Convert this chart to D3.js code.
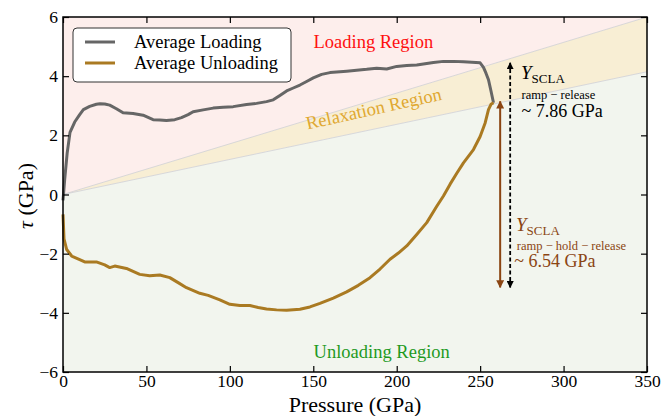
<!DOCTYPE html>
<html>
<head>
  <meta charset="utf-8">
  <style>
    body { margin: 0; background: #fff; }
    text { font-family: "Liberation Serif", "Times New Roman", serif; }
  </style>
</head>
<body>
  <svg id="chart" width="663" height="416"></svg>
  <script src="https://d3js.org/d3.v7.min.js"></script>
  <script>
    // traced values, pressure in GPa, tau in GPa
    const loadingP = [0, 1, 2.5, 4.2, 7, 10, 12.2, 16, 20, 22.2, 25, 28, 32, 36, 42, 48, 54, 58, 62, 67, 71, 75, 78, 84, 90, 96, 102, 110, 116, 122, 126, 130, 134, 138, 142, 146, 150, 155, 160, 166, 170, 176, 182, 188, 194, 200, 206, 212, 217, 222, 228, 234, 240, 245, 250, 252, 253.5, 255, 256.5, 258];
    const loadingTau = [-0.2, 0.5, 1.4, 2.1, 2.45, 2.7, 2.87, 2.98, 3.05, 3.07, 3.06, 3.02, 2.9, 2.76, 2.74, 2.68, 2.53, 2.52, 2.5, 2.53, 2.6, 2.7, 2.8, 2.86, 2.92, 2.95, 2.97, 3.04, 3.08, 3.14, 3.2, 3.35, 3.5, 3.6, 3.7, 3.82, 3.94, 4.06, 4.12, 4.15, 4.17, 4.2, 4.23, 4.27, 4.24, 4.33, 4.36, 4.38, 4.42, 4.46, 4.5, 4.5, 4.49, 4.47, 4.45, 4.3, 4.1, 3.88, 3.5, 3.1];
    const unloadingP = [0, 0.6, 2.2, 5.2, 10, 13, 20, 25, 28, 31, 38, 46, 52, 58, 64, 69, 74, 82, 87, 94, 100, 106, 112, 117, 122, 128, 134, 142, 148, 154, 162, 170, 177, 184, 190, 196, 201, 206, 212, 218, 224, 228, 232, 236, 240, 246, 250, 253, 255, 256.5, 258];
    const unloadingTau = [-0.67, -1.5, -1.86, -2.08, -2.2, -2.28, -2.28, -2.38, -2.47, -2.42, -2.5, -2.7, -2.75, -2.72, -2.81, -2.98, -3.15, -3.34, -3.41, -3.56, -3.71, -3.75, -3.75, -3.82, -3.87, -3.9, -3.91, -3.88, -3.8, -3.68, -3.5, -3.29, -3.07, -2.81, -2.52, -2.19, -1.98, -1.74, -1.35, -0.95, -0.4, -0.05, 0.35, 0.72, 1.07, 1.52, 1.96, 2.42, 2.87, 3.05, 3.1];

    // region boundaries
    const boundaryP = [0, 350];
    const upperTau = [0, 6];
    const lowerTau = [0, 4.15];

    const xTicks = [0, 50, 100, 150, 200, 250, 300, 350];
    const yTicks = [-6, -4, -2, 0, 2, 4, 6];

    // Y_SCLA arrows: pressure, tau from, tau to
    const rampReleaseArrow = [268, -3.14, 4.45];
    const rampHoldArrow = [262, -3.14, 3.15];

    const width = 663, height = 416;
    const margin = {top: 17, right: 16, bottom: 44, left: 63};
    const w = width - margin.left - margin.right;
    const h = height - margin.top - margin.bottom;

    const svg = d3.select("#chart");
    const g = svg.append("g").attr("transform", `translate(${margin.left},${margin.top})`);

    const x = d3.scaleLinear().domain([0, 350]).range([0, w]);
    const y = d3.scaleLinear().domain([-6, 6]).range([h, 0]);

    // regions
    const up = boundaryP.map((p, i) => [p, upperTau[i]]);
    const lo = boundaryP.map((p, i) => [p, lowerTau[i]]);
    const poly = d3.line().x(d => x(d[0])).y(d => y(d[1]));

    g.append("path").attr("fill", "#fdeeec")
      .attr("d", poly([[0, 6], ...up, [350, 6]]) + "Z");
    g.append("path").attr("fill", "#f8eed4")
      .attr("d", poly([...up, ...lo.slice().reverse()]) + "Z");
    g.append("path").attr("fill", "#f2f5ee")
      .attr("d", poly([...lo, [350, -6], [0, -6]]) + "Z");
    g.append("path").attr("fill", "none").attr("stroke", "#cfcfd4").attr("stroke-width", 0.8).attr("d", poly(up));
    g.append("path").attr("fill", "none").attr("stroke", "#cfcfd4").attr("stroke-width", 0.8).attr("d", poly(lo));

    // region labels
    g.append("text").attr("x", x(186)).attr("y", y(4.95)).attr("text-anchor", "middle")
      .attr("fill", "#ff1010").style("font-size", "18.5px").text("Loading Region");
    g.append("text").attr("transform", `translate(${x(187)},${y(2.7)}) rotate(-12.5)`)
      .attr("text-anchor", "middle").attr("fill", "#e0a830").style("font-size", "18.5px").text("Relaxation Region");
    g.append("text").attr("x", x(191)).attr("y", y(-5.54)).attr("text-anchor", "middle")
      .attr("fill", "#1e9a1e").style("font-size", "18.5px").text("Unloading Region");

    // curves
    const line = d3.line().x(d => x(d[0])).y(d => y(d[1]));
    g.append("path").attr("fill", "none").attr("stroke", "#666666").attr("stroke-width", 3)
      .attr("stroke-linejoin", "round")
      .attr("d", line(loadingP.map((p, i) => [p, loadingTau[i]])));
    g.append("path").attr("fill", "none").attr("stroke", "#aa7a22").attr("stroke-width", 3)
      .attr("stroke-linejoin", "round")
      .attr("d", line(unloadingP.map((p, i) => [p, unloadingTau[i]])));

    // arrows
    const defs = svg.append("defs");
    [["headBlack", "#000"], ["headBrown", "#8b4513"]].forEach(([id, c]) => {
      defs.append("marker").attr("id", id).attr("viewBox", "0 0 10 10")
        .attr("refX", 9).attr("refY", 5).attr("markerWidth", 4).attr("markerHeight", 4)
        .attr("markerUnits", "strokeWidth").attr("orient", "auto-start-reverse")
        .append("path").attr("d", "M0,0L10,5L0,10Z").attr("fill", c);
    });
    g.append("line").attr("x1", x(rampHoldArrow[0])).attr("x2", x(rampHoldArrow[0]))
      .attr("y1", y(rampHoldArrow[1])).attr("y2", y(rampHoldArrow[2]))
      .attr("stroke", "#8b4513").attr("stroke-width", 2)
      .attr("marker-start", "url(#headBrown)").attr("marker-end", "url(#headBrown)");
    g.append("line").attr("x1", x(rampReleaseArrow[0])).attr("x2", x(rampReleaseArrow[0]))
      .attr("y1", y(rampReleaseArrow[1])).attr("y2", y(rampReleaseArrow[2]))
      .attr("stroke", "#000").attr("stroke-width", 1.8).attr("stroke-dasharray", "4,2.5")
      .attr("marker-start", "url(#headBlack)").attr("marker-end", "url(#headBlack)");

    // annotation text
    function yscla(px, py, color) {
      const t = g.append("text").attr("x", px).attr("y", py).attr("fill", color);
      t.append("tspan").style("font-style", "italic").style("font-size", "19px").text("Y");
      t.append("tspan").attr("dy", 4).style("font-size", "13px").text("SCLA");
    }
    yscla(x(274.5), y(3.9), "#000");
    g.append("text").attr("x", x(274.8)).attr("y", y(3.22)).style("font-size", "12.5px").attr("fill", "#000")
      .text("ramp \u2212 release");
    g.append("text").attr("x", x(274.8)).attr("y", y(2.63)).style("font-size", "18px").attr("fill", "#000")
      .text("~ 7.86 GPa");
    yscla(x(271.5), y(-1.25), "#8b4513");
    g.append("text").attr("x", x(272)).attr("y", y(-1.88)).style("font-size", "12.5px").attr("fill", "#8b4513")
      .text("ramp \u2212 hold \u2212 release");
    g.append("text").attr("x", x(270.5)).attr("y", y(-2.46)).style("font-size", "18px").attr("fill", "#8b4513")
      .text("~ 6.54 GPa");

    // axes with inward ticks
    const fmt = d => d < 0 ? "\u2212" + Math.abs(d) : String(d);
    const axB = g.append("g").attr("transform", `translate(0,${h})`)
      .call(d3.axisBottom(x).tickValues(xTicks).tickSize(-6).tickPadding(3).tickFormat(fmt));
    const axT = g.append("g").call(d3.axisTop(x).tickValues(xTicks).tickSize(-6).tickFormat(""));
    const axL = g.append("g").call(d3.axisLeft(y).tickValues(yTicks).tickSize(-6).tickPadding(5).tickFormat(fmt));
    const axR = g.append("g").attr("transform", `translate(${w},0)`)
      .call(d3.axisRight(y).tickValues(yTicks).tickSize(-6).tickFormat(""));
    [axB, axT, axL, axR].forEach(a => {
      a.attr("font-family", "'Liberation Serif', serif").attr("font-size", 17.5);
      a.select(".domain").remove();
      a.selectAll(".tick line").attr("stroke", "#000").attr("stroke-width", 1.2);
      a.selectAll(".tick text").attr("fill", "#000");
    });
    g.append("rect").attr("width", w).attr("height", h).attr("fill", "none")
      .attr("stroke", "#000").attr("stroke-width", 1.5);

    // axis titles
    svg.append("text").attr("x", margin.left + w / 2).attr("y", 412).attr("text-anchor", "middle")
      .style("font-size", "22px").text("Pressure (GPa)");
    const yl = svg.append("text").attr("transform", `translate(33,196) rotate(-90)`)
      .attr("text-anchor", "middle").style("font-size", "22px");
    yl.append("tspan").style("font-style", "italic").text("\u03c4");
    yl.append("tspan").text(" (GPa)");

    // legend
    const leg = svg.append("g").attr("transform", "translate(73,28)");
    leg.append("rect").attr("width", 218).attr("height", 54).attr("rx", 4)
      .attr("fill", "#fff").attr("stroke", "#333").attr("stroke-width", 1);
    [["Average Loading", "#666666"], ["Average Unloading", "#aa7a22"]].forEach(([name, c], i) => {
      leg.append("line").attr("x1", 12).attr("x2", 42).attr("y1", 14 + i * 21).attr("y2", 14 + i * 21)
        .attr("stroke", c).attr("stroke-width", 3);
      leg.append("text").attr("x", 61).attr("y", 20 + i * 21).style("font-size", "18.5px").text(name);
    });
  </script>
</body>
</html>
